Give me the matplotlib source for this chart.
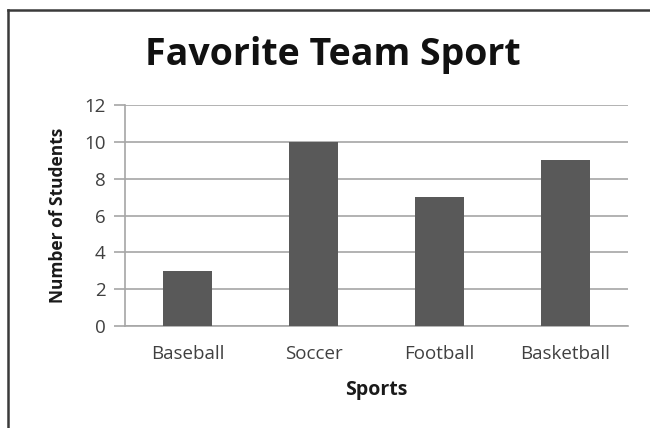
import matplotlib.pyplot as plt
from matplotlib.lines import Line2D

sports = ["Baseball", "Soccer", "Football", "Basketball"]
students = [3, 10, 7, 9]
y_ticks = [0, 2, 4, 6, 8, 10, 12]

W, H = 650, 428
fig = plt.figure(figsize=(W / 100, H / 100), dpi=100)
fig.patch.set_facecolor("white")

# plot area in pixels: x 125..628, y 105..326
ax = fig.add_axes([125 / W, 1 - 326 / H, (628 - 125) / W, (326 - 105) / H])

x = range(len(sports))
ax.bar(x, students, width=0.39, color="#595959", zorder=3)

ax.set_xlim(-0.5, len(sports) - 0.5)
ax.set_ylim(0, 12)
ax.set_yticks(y_ticks)
ax.set_xticks(list(x))
ax.set_xticklabels(sports, fontsize=13.5, color="#404040", family="Open Sans")
ax.set_yticklabels([str(v) for v in y_ticks], fontsize=13.5, color="#404040", family="Open Sans")

ax.yaxis.grid(True, color="#a6a6a6", linewidth=1.2, zorder=0)
ax.tick_params(axis="x", length=0, pad=14)
ax.tick_params(axis="y", length=8, width=1.2, color="#a6a6a6", pad=6)

for side in ["top", "right"]:
    ax.spines[side].set_visible(False)
ax.spines["left"].set_color("#a6a6a6")
ax.spines["left"].set_linewidth(1.2)
ax.spines["bottom"].set_color("#a6a6a6")
ax.spines["bottom"].set_linewidth(1.2)

ax.set_xlabel("Sports", fontsize=14, fontweight="bold", family="Open Sans", labelpad=12,
              color="#1a1a1a")
ax.set_ylabel("Number of Students", fontsize=12.5, fontweight="bold", family="Open Sans",
              labelpad=12, color="#1a1a1a")

fig.text(333 / W, 1 - 55 / H, "Favorite Team Sport", fontsize=27, fontweight="bold",
         family="Open Sans", ha="center", va="center", color="#111111")

# outer chart border (continues past right and bottom edges)
fig.add_artist(Line2D([8 / W, 8 / W], [0, 1 - 10 / H], color="#3a3a3a", linewidth=1.8,
                      transform=fig.transFigure))
fig.add_artist(Line2D([8 / W, 1], [1 - 10 / H, 1 - 10 / H], color="#3a3a3a", linewidth=1.8,
                      transform=fig.transFigure))

plt.savefig("out.png", dpi=100)
